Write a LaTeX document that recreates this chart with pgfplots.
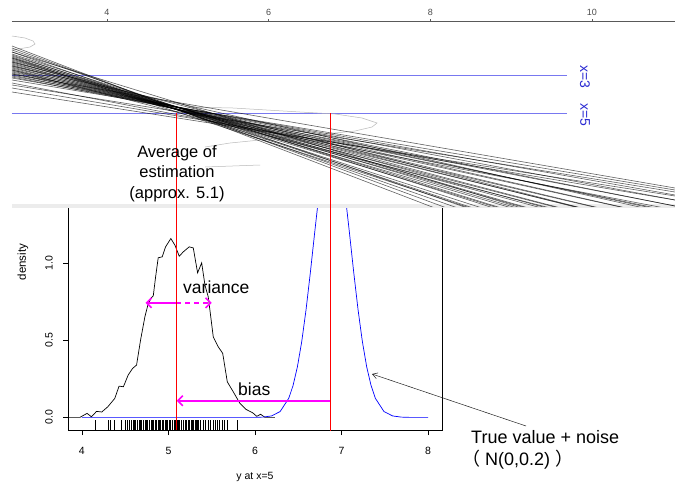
\documentclass[border=0pt]{standalone}
\usepackage{fontspec}
\setmainfont{Liberation Sans}
\newfontfamily\cjk{Noto Sans CJK SC}
\usepackage{pgfplots}
\pgfplotsset{compat=1.18}
\usetikzlibrary{arrows.meta}
\definecolor{rline}{RGB}{255,0,0}
\definecolor{bline}{RGB}{0,0,255}
\definecolor{mag}{RGB}{255,0,255}
\definecolor{hline}{RGB}{120,120,240}
\definecolor{xlab}{RGB}{40,40,210}
\newcommand{\fs}[1]{\fontsize{#1}{#1}\selectfont}

\begin{document}
\begin{tikzpicture}
\path[use as bounding box] (0,0) rectangle (675pt,-487pt);

% lower panel: density of the estimates at x=5
\begin{axis}[
    at={(68pt,-430pt)}, anchor=south west,
    scale only axis, width=374pt, height=332pt,
    xmin=3.84, xmax=8.16, ymin=-0.082, ymax=2.075,
    xtick={4,5,6,7,8}, ytick={0,0.5,1}, yticklabels={,,},
    tick align=outside, xtick pos=left, ytick pos=left,
    major tick length=5pt,
    axis line style={line width=0.7pt},
    every tick/.style={black, line width=0.7pt},
    tick label style={font=\fs{10.5}},
    xticklabel shift=9pt,
    /pgf/number format/assume math mode=true,
]
\addplot[black, line width=0.7pt] coordinates {
    (3.84,0) (3.977,0) (4.06,0.026) (4.11,0.004) (4.17,0.039) (4.23,0.035)
    (4.30,0.069) (4.38,0.123) (4.43,0.203) (4.48,0.199) (4.535,0.275)
    (4.586,0.318) (4.632,0.340) (4.678,0.502) (4.728,0.653) (4.767,0.740)
    (4.806,0.779) (4.825,0.79) (4.852,0.913) (4.882,1.037) (4.928,1.043)
    (4.967,1.108) (5.028,1.162) (5.075,1.119) (5.125,1.047) (5.171,1.075)
    (5.24,1.108) (5.287,1.101) (5.337,0.939) (5.384,1.004) (5.422,0.859)
    (5.46,0.783) (5.518,0.523) (5.576,0.458) (5.627,0.416) (5.68,0.231)
    (5.749,0.166) (5.826,0.091) (5.896,0.052) (5.973,0.03) (6.02,0.007)
    (6.065,0.02) (6.116,0) (6.23,0)
};
\addplot[bline, line width=0.7pt] coordinates {
    (4.0,0) (5.99,0) (6.09,0.0018) (6.19,0.0093) (6.29,0.0378) (6.39,0.124)
    (6.44,0.208) (6.49,0.329) (6.54,0.493) (6.59,0.701) (6.64,0.944)
    (6.69,1.204) (6.74,1.455) (6.79,1.666) (6.84,1.806) (6.89,1.856)
    (6.94,1.806) (6.99,1.666) (7.04,1.455) (7.09,1.204) (7.14,0.944)
    (7.19,0.701) (7.24,0.493) (7.29,0.329) (7.34,0.208) (7.39,0.124)
    (7.49,0.0378) (7.59,0.0093) (7.69,0.0018) (7.79,0) (8.0,0)
};
% rug of the estimates
\addplot[only marks, mark=|, mark size=5pt, black, mark options={line width=0.6pt}] coordinates {
    (4.16,-0.05) (4.31,-0.05) (4.33,-0.05) (4.37,-0.05) (4.45,-0.05) (4.50,-0.05)
    (4.52,-0.05) (4.55,-0.05) (4.57,-0.05) (4.59,-0.05) (4.61,-0.05) (4.62,-0.05)
    (4.64,-0.05) (4.66,-0.05) (4.68,-0.05) (4.69,-0.05) (4.71,-0.05) (4.73,-0.05)
    (4.74,-0.05) (4.76,-0.05) (4.78,-0.05) (4.80,-0.05) (4.81,-0.05) (4.83,-0.05)
    (4.85,-0.05) (4.86,-0.05) (4.88,-0.05) (4.89,-0.05) (4.91,-0.05) (4.93,-0.05)
    (4.94,-0.05) (4.96,-0.05) (4.97,-0.05) (4.99,-0.05) (5.01,-0.05) (5.02,-0.05)
    (5.04,-0.05) (5.05,-0.05) (5.07,-0.05) (5.08,-0.05) (5.10,-0.05) (5.11,-0.05)
    (5.13,-0.05) (5.15,-0.05) (5.17,-0.05) (5.19,-0.05) (5.21,-0.05) (5.23,-0.05)
    (5.24,-0.05) (5.26,-0.05) (5.28,-0.05) (5.29,-0.05) (5.31,-0.05) (5.32,-0.05)
    (5.33,-0.05) (5.34,-0.05) (5.35,-0.05) (5.37,-0.05) (5.40,-0.05) (5.43,-0.05)
    (5.46,-0.05) (5.48,-0.05) (5.52,-0.05) (5.54,-0.05) (5.57,-0.05) (5.59,-0.05)
    (5.62,-0.05) (5.65,-0.05) (5.68,-0.05) (5.80,-0.05)
};
\draw[mag, line width=1.6pt, {Straight Barb[length=5pt,width=10pt]}-] (axis cs:4.735,0.744) -- (axis cs:5.09,0.744);
\draw[mag, line width=1.6pt, dash pattern=on 5pt off 4pt, -{Straight Barb[length=5pt,width=10pt]}] (axis cs:5.09,0.744) -- (axis cs:5.50,0.744);
\draw[mag, line width=1.6pt, {Straight Barb[length=5pt,width=10pt]}-] (axis cs:5.095,0.108) -- (axis cs:6.87,0.108);
\end{axis}

\fill[white] (0pt,0pt) rectangle (675pt,-208pt);
\fill[gray!15] (12pt,-204pt) rectangle (675pt,-208pt);

% upper panel: fitted lines
\begin{axis}[
    at={(12pt,-206pt)}, anchor=south west,
    scale only axis, width=663pt, height=185pt,
    xmin=2.825, xmax=11.027, ymin=21, ymax=206, y dir=reverse,
    axis x line*=top, axis y line=none,
    x axis line style={-, gray!70!black, line width=0.5pt},
    xtick={4,6,8,10}, tick align=outside, major tick length=2pt,
    every tick/.style={gray!70!black},
    xticklabel style={font=\fs{9}, text=gray!60!black},
    /pgf/number format/assume math mode=true,
    rl/.style={black, opacity=0.62, line width=0.6pt, no markers},
]
\addplot[hline, line width=1pt] coordinates {(2.825,75) (9.69,75)};
\addplot[hline, line width=1pt] coordinates {(2.825,113) (9.69,113)};
\addplot[gray!55, line width=0.5pt] coordinates {(2.825,36) (2.986,38) (3.085,41) (3.110,44) (3.048,47) (2.825,50)};
\addplot[gray!55, line width=0.5pt] coordinates {
    (4.990,107) (5.559,108) (6.388,112) (6.821,114) (7.155,118) (7.341,123)
    (7.279,127) (7.068,131) (6.821,133) (6.141,138) (5.522,143) (5.213,147)};
\addplot[gray!55, line width=0.5pt] coordinates {(5.213,167) (5.893,165)};
\addplot[rl] coordinates {(2.825,50) (11.027,280)};
\addplot[rl] coordinates {(2.825,52) (11.027,284)};
\addplot[rl] coordinates {(2.825,54) (11.027,266)};
\addplot[rl] coordinates {(2.825,55) (11.027,275)};
\addplot[rl] coordinates {(2.825,56) (11.027,262)};
\addplot[rl] coordinates {(2.825,57) (11.027,270)};
\addplot[rl] coordinates {(2.825,58) (11.027,255)};
\addplot[rl] coordinates {(2.825,59) (11.027,262)};
\addplot[rl] coordinates {(2.825,60) (11.027,250)};
\addplot[rl] coordinates {(2.825,61) (11.027,256)};
\addplot[rl] coordinates {(2.825,62) (11.027,243)};
\addplot[rl] coordinates {(2.825,63) (11.027,250)};
\addplot[rl] coordinates {(2.825,64) (11.027,238)};
\addplot[rl] coordinates {(2.825,65) (11.027,244)};
\addplot[rl] coordinates {(2.825,66) (11.027,232)};
\addplot[rl] coordinates {(2.825,67) (11.027,238)};
\addplot[rl] coordinates {(2.825,68) (11.027,226)};
\addplot[rl] coordinates {(2.825,69) (11.027,231)};
\addplot[rl] coordinates {(2.825,70) (11.027,219)};
\addplot[rl] coordinates {(2.825,71) (11.027,226)};
\addplot[rl] coordinates {(2.825,72) (11.027,213)};
\addplot[rl] coordinates {(2.825,73) (11.027,219)};
\addplot[rl] coordinates {(2.825,74) (11.027,206)};
\addplot[rl] coordinates {(2.825,75) (11.027,212)};
\addplot[rl] coordinates {(2.825,76) (11.027,200)};
\addplot[rl] coordinates {(2.825,77) (11.027,206)};
\addplot[rl] coordinates {(2.825,78) (11.027,195)};
\addplot[rl] coordinates {(2.825,80) (11.027,190)};
\addplot[rl] coordinates {(2.825,46) (11.027,300)};
\addplot[rl] coordinates {(2.825,48) (11.027,292)};
\addplot[rl] coordinates {(2.825,85) (11.027,192)};
\addplot[rl] coordinates {(2.825,88) (11.027,200)};
\addplot[rl] coordinates {(2.825,92) (11.027,196)};
\addplot[rl] coordinates {(2.825,83) (11.027,210)};
\addplot[rl] coordinates {(2.825,62) (11.027,232)};
\addplot[rl] coordinates {(2.825,58) (11.027,275)};
\addplot[rl] coordinates {(2.825,70) (11.027,240)};
\addplot[rl] coordinates {(2.825,66) (11.027,215)};
\addplot[rl] coordinates {(2.825,74) (11.027,188)};
\addplot[rl] coordinates {(2.825,52) (11.027,255)};
\end{axis}

\begin{scope}[x=1pt, y=-1pt]
\draw[rline, line width=1pt] (176,113) -- (176,430);
\draw[rline, line width=1pt] (330,113) -- (330,431);
\node[rotate=90, font=\fs{10.5}] at (49,417.3) {0.0};
\node[rotate=90, font=\fs{10.5}] at (49,340.3) {0.5};
\node[rotate=90, font=\fs{10.5}] at (49,263.3) {1.0};
\node[rotate=-90, text=xlab, font=\fs{14}] at (585,77) {x=3};
\node[rotate=-90, text=xlab, font=\fs{14}] at (585,115) {x=5};
\node[anchor=base, font=\fs{16.5}] at (177,157) {Average of};
\node[anchor=base, font=\fs{16.5}] at (177,177) {estimation};
\node[anchor=base, font=\fs{16.5}] at (177,198) {(approx. 5.1)};
\node[anchor=base west, inner sep=0pt, font=\fs{17.5}] at (183,293) {variance};
\node[anchor=base west, inner sep=0pt, font=\fs{17.5}] at (238,395) {bias};
\draw[gray!25!black, line width=0.5pt, -{Straight Barb[length=5pt,width=6pt]}] (526,426) -- (372,374);
\node[anchor=base west, inner sep=0pt, font=\fs{18}] at (471,443) {True value + noise};
\node[anchor=base west, inner sep=0pt, font=\fs{18}] at (462,465) {{\cjk （} N(0,0.2) {\cjk ）}};
\node[rotate=90, font=\fs{11.5}] at (23,262) {density};
\node[font=\fs{10.5}] at (255,477) {y at x=5};
\end{scope}
\end{tikzpicture}
\end{document}
